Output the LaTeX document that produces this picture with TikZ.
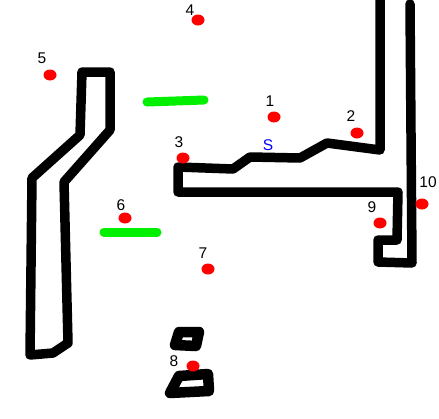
\documentclass[tikz,border=0pt]{standalone}
\usepackage{fontspec}
\setmainfont{Liberation Sans}
\usetikzlibrary{shapes.geometric}
\definecolor{dotred}{RGB}{255,0,0}
\definecolor{barg}{RGB}{0,240,0}
\definecolor{sblue}{RGB}{0,0,255}
\begin{document}
\begin{tikzpicture}[x=1pt,y=-1pt,
  wall/.style={line width=9.5pt,line join=round,line cap=round,black},
  block/.style={wall,line width=10.5pt},
  bar/.style={line width=9pt,line cap=round,barg},
  dot/.style={fill=dotred,ellipse,draw=none,minimum width=13pt,minimum height=11pt,inner sep=0pt},
  num/.style={font=\fontsize{15.5}{15.5}\selectfont,inner sep=0pt}]
\useasboundingbox (0,0) rectangle (439,418);
% left shape
\draw[wall] (82,72) -- (110,72) -- (110,130) -- (64,182) -- (68,343) -- (53,353) -- (30,355) -- (32,178) -- (80,135) -- cycle;
% right shape
\draw[wall] (380,-6) -- (380,150) -- (327,143) -- (300,158) -- (250,157) -- (233,169) -- (178,167) -- (178,192) -- (398,192) -- (397,240) -- (378,240) -- (378,262) -- (412,263) -- (410,4);
% small shapes
\draw[block] (179,332) -- (199,332) -- (196,346) -- (175,345) -- cycle;
\draw[block] (179,376) -- (208,374) -- (209,391) -- (170,393) -- cycle;
% green bars
\draw[bar] (147,102) -- (204,100);
\draw[bar] (104,232) -- (157,232);
% dots
\node[dot] (d1) at (274,117) {};
\node[dot] (d2) at (357,133) {};
\node[dot] (d3) at (183,158) {};
\node[dot] (d4) at (198,20) {};
\node[dot] (d5) at (50,75) {};
\node[dot] (d6) at (125,218) {};
\node[dot] (d7) at (208,269) {};
\node[dot] (d8) at (193,366) {};
\node[dot] (d9) at (380,223) {};
\node[dot] (d10) at (422,204) {};
% labels
\node[num] (l1) at (270,101) {1};
\node[num] (l2) at (351,116) {2};
\node[num] (l3) at (179,142) {3};
\node[num] (l4) at (190,10) {4};
\node[num] (l5) at (42,58) {5};
\node[num] (l6) at (121,205) {6};
\node[num] (l7) at (203,253) {7};
\node[num] (l8) at (174,361) {8};
\node[num] (l9) at (372,207) {9};
\node[num] (l10) at (428,182) {10};
\node[num,text=sblue] (s) at (268,145) {S};
\end{tikzpicture}
\end{document}
